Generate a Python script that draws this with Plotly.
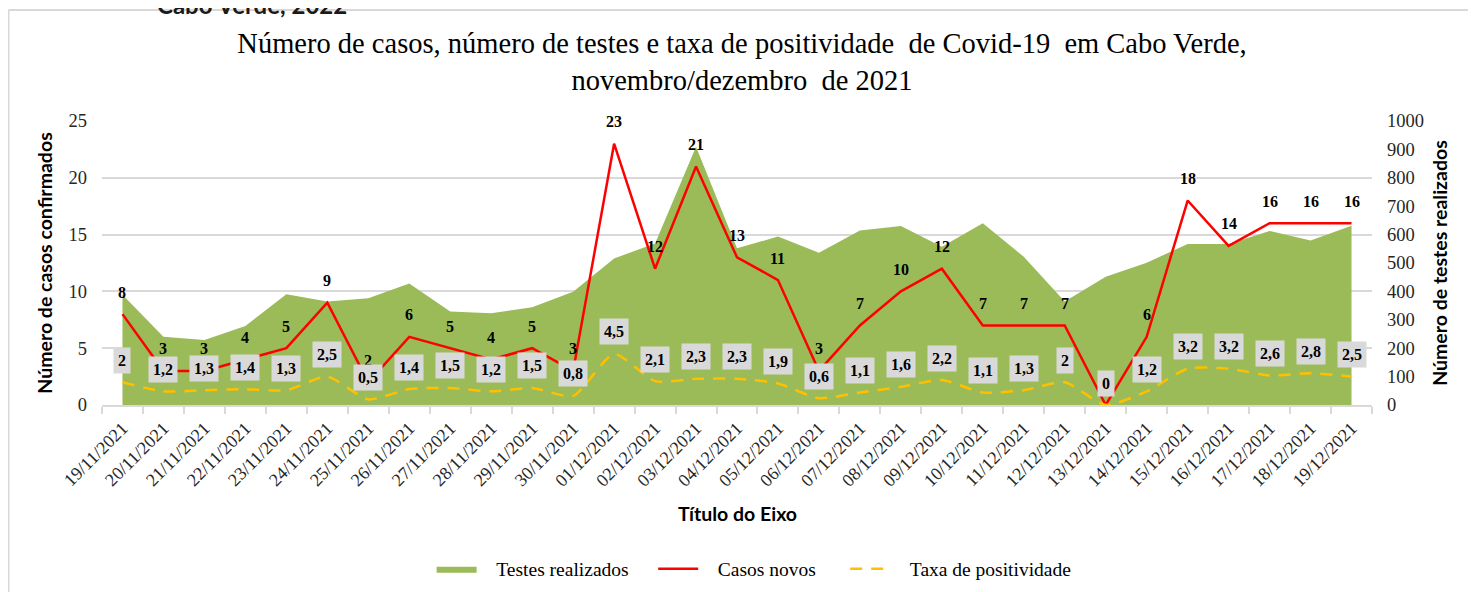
import plotly.graph_objects as go

dates = ["19/11/2021", "20/11/2021", "21/11/2021", "22/11/2021", "23/11/2021", "24/11/2021",
         "25/11/2021", "26/11/2021", "27/11/2021", "28/11/2021", "29/11/2021", "30/11/2021",
         "01/12/2021", "02/12/2021", "03/12/2021", "04/12/2021", "05/12/2021", "06/12/2021",
         "07/12/2021", "08/12/2021", "09/12/2021", "10/12/2021", "11/12/2021", "12/12/2021",
         "13/12/2021", "14/12/2021", "15/12/2021", "16/12/2021", "17/12/2021", "18/12/2021",
         "19/12/2021"]
testes = [388, 240, 229, 278, 390, 364, 376, 428, 329, 323, 344, 399,
          516, 569, 909, 552, 593, 536, 614, 630, 557, 640, 522, 364,
          452, 501, 567, 567, 613, 579, 631]
casos = [8, 3, 3, 4, 5, 9, 2, 6, 5, 4, 5, 3, 23, 12, 21, 13, 11, 3, 7, 10, 12, 7, 7, 7,
         0, 6, 18, 14, 16, 16, 16]
taxa = [2, 1.2, 1.3, 1.4, 1.3, 2.5, 0.5, 1.4, 1.5, 1.2, 1.5, 0.8, 4.5, 2.1, 2.3, 2.3,
        1.9, 0.6, 1.1, 1.6, 2.2, 1.1, 1.3, 2, 0, 1.2, 3.2, 3.2, 2.6, 2.8, 2.5]

SERIF = "Liberation Serif"
SANS = "Lato"
NB = "\u00a0"

# page body has an 8px margin; figure is sized/offset to match the reference page
W, H = 1468, 584
L, R, T, B = 94, 104, 113, 187
PW, PH = W - L - R, H - T - B

fig = go.Figure()
fig.add_trace(go.Scatter(
    x=dates, y=testes, name=NB * 3 + "Testes realizados" + NB * 4, yaxis="y",
    mode="lines", fill="tozeroy", fillcolor="#9bbb59",
    line=dict(color="#9bbb59", width=0)))
fig.add_trace(go.Scatter(
    x=dates, y=casos, name=NB * 3 + "Casos novos" + NB * 5, yaxis="y2",
    mode="lines", line=dict(color="#ff0000", width=2.5)))
fig.add_trace(go.Scatter(
    x=dates, y=taxa, name=NB * 3 + "Taxa de positividade", yaxis="y2",
    mode="lines", line=dict(color="#ffc000", width=2.5, dash="12px,9px",
                            shape="spline", smoothing=0.6)))


def fmt(v):
    return ("%g" % v).replace(".", ",")


annotations = []
for d, c in zip(dates, casos):
    annotations.append(dict(x=d, y=c, xref="x", yref="y2", text="<b>%d</b>" % c,
                            showarrow=False, yshift=22,
                            font=dict(family=SERIF, size=16, color="#000000")))
for d, t in zip(dates, taxa):
    annotations.append(dict(x=d, y=t, xref="x", yref="y2", text="<b>%s</b>" % fmt(t),
                            showarrow=False, yshift=22, bgcolor="#d9d9d9", borderpad=4,
                            font=dict(family=SERIF, size=16, color="#000000")))
annotations.append(dict(x=0.5, y=-(505 - T - PH) / PH,
                        xref="paper", yref="paper", text="<b>Título do Eixo</b>",
                        showarrow=False, yanchor="middle",
                        font=dict(family=SANS, size=19.5, color="#000000")))
annotations.append(dict(x=(147 - L) / PW, y=1.0, xref="paper", yref="paper",
                        text="<b>Cabo Verde, 2022</b>", showarrow=False,
                        xanchor="left", yanchor="middle", yshift=T + 4,
                        font=dict(family=SANS, size=24, color="#1a1a1a")))

title_text = ("Número de casos, número de testes e taxa de positividade " + NB +
              "de Covid-19 " + NB + "em Cabo Verde,<br>novembro/dezembro " + NB + "de 2021")

fig.update_layout(
    width=W, height=H,
    margin=dict(l=L, r=R, t=T, b=B, autoexpand=False),
    paper_bgcolor="#ffffff", plot_bgcolor="#ffffff",
    title=dict(text=title_text,
               x=0.5, xanchor="center", y=1 - 45 / H, yanchor="middle",
               font=dict(family=SERIF, size=28.5, color="#000000")),
    xaxis=dict(type="category", range=[-0.5, 30.5], tickangle=-45,
               tickson="boundaries", ticks="outside", ticklen=7, tickcolor="#d9d9d9",
               tickwidth=1.5, ticklabelstandoff=4,
               showline=True, linecolor="#d9d9d9", linewidth=1.5, showgrid=False,
               tickfont=dict(family=SERIF, size=18, color="#262626")),
    yaxis=dict(side="right", range=[0, 1000], dtick=100, showgrid=False, zeroline=False,
               ticklabelstandoff=14,
               tickfont=dict(family=SERIF, size=18.5, color="#262626"),
               title=dict(text="<b>Número de testes realizados</b>", standoff=10,
                          font=dict(family=SANS, size=19.5, color="#000000"))),
    yaxis2=dict(side="left", overlaying="y", range=[0, 25], dtick=5, showgrid=True,
                gridcolor="#d9d9d9", gridwidth=1.5, zeroline=False,
                ticklabelstandoff=14,
                tickfont=dict(family=SERIF, size=18.5, color="#262626"),
                title=dict(text="<b>Número de casos confirmados</b>", standoff=10,
                           font=dict(family=SANS, size=19.5, color="#000000"))),
    legend=dict(orientation="h", x=0.5135, xanchor="center",
                y=-(561 - T - PH) / PH, yanchor="middle",
                font=dict(family=SERIF, size=19.5, color="#000000"),
                itemwidth=40, bgcolor="rgba(0,0,0,0)"),
    annotations=annotations,
    shapes=[dict(type="line", xref="paper", yref="paper",
                 x0=(0.5 - L) / PW, x1=(0.5 - L) / PW,
                 y0=(PH + T - 2) / PH, y1=-(H - T - PH + 10) / PH,
                 line=dict(color="#d9d9d9", width=2)),
            dict(type="line", xref="paper", yref="paper",
                 x0=(0.5 - L) / PW, x1=(W + 10 - L) / PW,
                 y0=(PH + T - 2) / PH, y1=(PH + T - 2) / PH,
                 line=dict(color="#d9d9d9", width=2))],
    showlegend=True,
)

fig.write_html("out.html")
